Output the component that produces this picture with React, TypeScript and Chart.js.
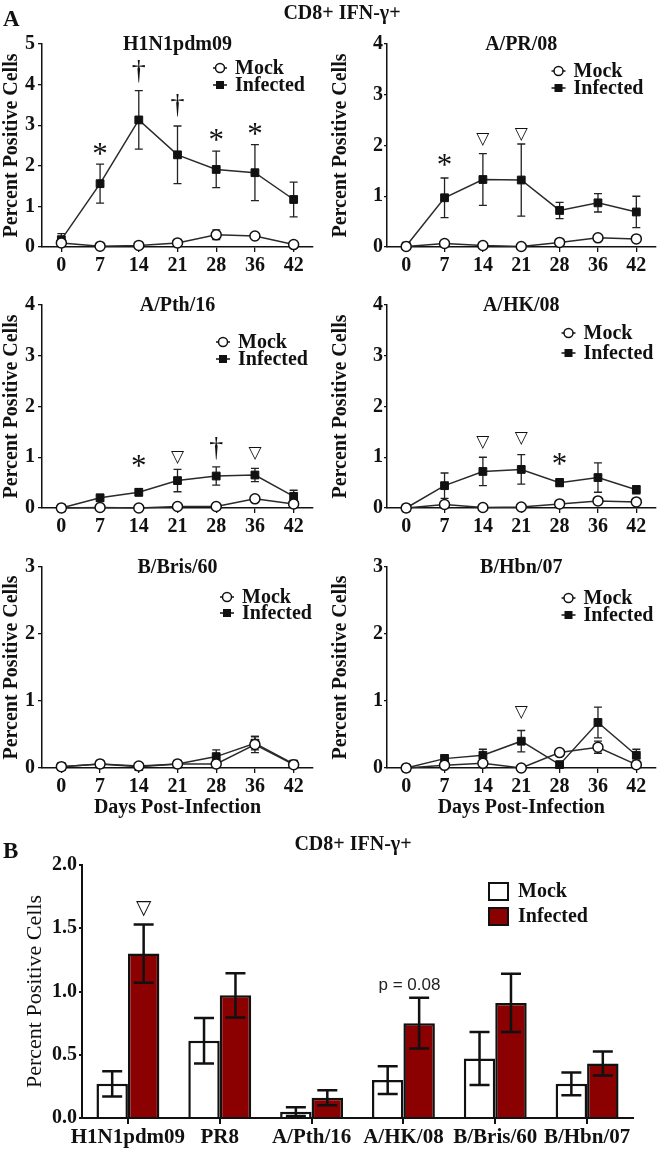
import React, { useEffect, useRef } from "react";
import { Chart, registerables } from "chart.js";
Chart.register(...registerables);

const SERIF = "'Liberation Serif', 'Times New Roman', serif";
const SANS = "'Liberation Sans', Arial, sans-serif";
const SYM = "'DejaVu Sans', sans-serif";

// ---------- data ----------
const DAYS = ["0", "7", "14", "21", "28", "36", "42"];

const H1N1_MOCK = [0.1, 0.02, 0.04, 0.1, 0.3, 0.27, 0.06];
const H1N1_MOCK_ERR = [0.05, 0.02, 0.02, 0.04, 0.12, 0.04, 0.02];
const H1N1_INF = [0.18, 1.56, 3.13, 2.27, 1.91, 1.83, 1.17];
const H1N1_INF_ERR = [0.15, 0.48, 0.72, 0.71, 0.45, 0.69, 0.43];

const PR8_MOCK = [0.01, 0.07, 0.03, 0.01, 0.09, 0.18, 0.16];
const PR8_MOCK_ERR = [0.01, 0.02, 0.02, 0.01, 0.03, 0.03, 0.03];
const PR8_INF = [0.02, 0.97, 1.33, 1.32, 0.72, 0.87, 0.69];
const PR8_INF_ERR = [0.01, 0.39, 0.51, 0.71, 0.16, 0.18, 0.31];

const PTH_MOCK = [0.0, 0.01, 0.0, 0.03, 0.03, 0.18, 0.08];
const PTH_MOCK_ERR = [0, 0.01, 0, 0.02, 0.02, 0.04, 0.03];
const PTH_INF = [0.0, 0.2, 0.31, 0.54, 0.63, 0.65, 0.23];
const PTH_INF_ERR = [0, 0.07, 0.07, 0.22, 0.18, 0.13, 0.12];

const HK_MOCK = [0.0, 0.07, 0.01, 0.02, 0.08, 0.14, 0.12];
const HK_MOCK_ERR = [0, 0.03, 0.01, 0.01, 0.02, 0.03, 0.02];
const HK_INF = [0.0, 0.44, 0.72, 0.76, 0.5, 0.6, 0.36];
const HK_INF_ERR = [0, 0.25, 0.28, 0.29, 0.08, 0.29, 0.08];

const BRIS_MOCK = [0.02, 0.06, 0.03, 0.06, 0.06, 0.35, 0.05];
const BRIS_MOCK_ERR = [0.01, 0.02, 0.01, 0.02, 0.02, 0.12, 0.02];
const BRIS_INF = [0.02, 0.06, 0.02, 0.06, 0.17, 0.37, 0.06];
const BRIS_INF_ERR = [0.02, 0.03, 0.02, 0.02, 0.1, 0.1, 0.03];

const HBN_MOCK = [0.0, 0.04, 0.07, 0.0, 0.23, 0.31, 0.05];
const HBN_MOCK_ERR = [0, 0.02, 0.03, 0, 0.03, 0.09, 0.02];
const HBN_INF = [0.0, 0.14, 0.19, 0.4, 0.05, 0.68, 0.19];
const HBN_INF_ERR = [0, 0.06, 0.09, 0.16, 0.02, 0.23, 0.09];

// significance marks: [category index, symbol, y position in data units]
const H1N1_MARKS: [number, string, number][] = [[1, "*", 2.4], [2, "†", 4.33], [3, "†", 3.5], [4, "*", 2.73], [5, "*", 2.89]];
const PR8_MARKS: [number, string, number][] = [[1, "*", 1.69], [2, "▽", 2.12], [3, "▽", 2.22]];
const PTH_MARKS: [number, string, number][] = [[2, "*", 0.915], [3, "▽", 1.0], [4, "†", 1.18], [5, "▽", 1.08]];
const HK_MARKS: [number, string, number][] = [[2, "▽", 1.29], [3, "▽", 1.37], [4, "*", 0.94]];
const BRIS_MARKS: [number, string, number][] = [];
const HBN_MARKS: [number, string, number][] = [[3, "▽", 0.83]];

const BAR_CATS = ["H1N1pdm09", "PR8", "A/Pth/16", "A/HK/08", "B/Bris/60", "B/Hbn/07"];
const BAR_MOCK = [0.27, 0.61, 0.05, 0.3, 0.47, 0.27];
const BAR_MOCK_ERR = [0.1, 0.18, 0.035, 0.11, 0.21, 0.09];
const BAR_INF = [1.3, 0.97, 0.16, 0.75, 0.91, 0.43];
const BAR_INF_ERR = [0.23, 0.175, 0.06, 0.2, 0.23, 0.095];

const SERIES = ["Mock", "Infected"];

// ---------- panel layout ----------
type Panel = {
  title: string; mock: number[]; mockErr: number[]; inf: number[]; infErr: number[];
  yMax: number; marks: [number, string, number][];
  col: number; row: number; xTitle: boolean;
  legend: [number, number, number]; // text offset from right, first row offset from top, row gap
};

const PANELS: Panel[] = [
  { title: "H1N1pdm09", mock: H1N1_MOCK, mockErr: H1N1_MOCK_ERR, inf: H1N1_INF, infErr: H1N1_INF_ERR, yMax: 5, marks: H1N1_MARKS, col: 0, row: 0, xTitle: false, legend: [78, 24, 17] },
  { title: "A/PR/08", mock: PR8_MOCK, mockErr: PR8_MOCK_ERR, inf: PR8_INF, infErr: PR8_INF_ERR, yMax: 4, marks: PR8_MARKS, col: 1, row: 0, xTitle: false, legend: [82, 27, 17] },
  { title: "A/Pth/16", mock: PTH_MOCK, mockErr: PTH_MOCK_ERR, inf: PTH_INF, infErr: PTH_INF_ERR, yMax: 4, marks: PTH_MARKS, col: 0, row: 1, xTitle: false, legend: [75, 37, 17] },
  { title: "A/HK/08", mock: HK_MOCK, mockErr: HK_MOCK_ERR, inf: HK_INF, infErr: HK_INF_ERR, yMax: 4, marks: HK_MARKS, col: 1, row: 1, xTitle: false, legend: [72, 28, 20] },
  { title: "B/Bris/60", mock: BRIS_MOCK, mockErr: BRIS_MOCK_ERR, inf: BRIS_INF, infErr: BRIS_INF_ERR, yMax: 3, marks: BRIS_MARKS, col: 0, row: 2, xTitle: true, legend: [71, 30, 16] },
  { title: "B/Hbn/07", mock: HBN_MOCK, mockErr: HBN_MOCK_ERR, inf: HBN_INF, infErr: HBN_INF_ERR, yMax: 3, marks: HBN_MARKS, col: 1, row: 2, xTitle: true, legend: [72, 31, 17] },
];

const ROW_TOP = [24, 285, 547];
const ROW_AREA_H = [203, 203, 201];
const PAD_TOP = 20;
const LINE_COLOR = "#2a2a2a";

function drawSymbol(ctx: CanvasRenderingContext2D, sym: string, x: number, y: number, triSize = 17) {
  ctx.save();
  ctx.fillStyle = "#111";
  ctx.textAlign = "center";
  if (sym === "*") {
    ctx.font = `normal 31px ${SERIF}`;
    ctx.textBaseline = "alphabetic";
    ctx.fillText("*", x, y + 14);
  } else if (sym === "†") {
    ctx.font = `normal 28px ${SERIF}`;
    ctx.textBaseline = "alphabetic";
    ctx.fillText("†", x, y + 8);
  } else {
    ctx.font = `normal ${triSize}px ${SYM}`;
    ctx.textBaseline = "middle";
    ctx.fillText(sym, x, y);
  }
  ctx.restore();
}

function LinePanel({ p }: { p: Panel }) {
  const ref = useRef<HTMLCanvasElement>(null);
  const left = p.col === 0;
  const width = 331;
  const xAxisH = p.xTitle ? 55 : 30;
  const height = PAD_TOP + ROW_AREA_H[p.row] + xAxisH;

  useEffect(() => {
    const errs = [p.mockErr, p.infErr];
    const plugin = {
      id: "extras",
      beforeDatasetsDraw(chart: any) {
        const ctx = chart.ctx;
        const xs = chart.scales.x, ys = chart.scales.y;
        ctx.save();
        ctx.strokeStyle = "#222";
        ctx.lineWidth = 1.3;
        chart.data.datasets.forEach((ds: any, d: number) => {
          ds.data.forEach((v: number, i: number) => {
            const e = errs[d][i];
            if (!e) return;
            const x = xs.getPixelForValue(i);
            const yt = ys.getPixelForValue(v + e);
            const yb = ys.getPixelForValue(Math.max(v - e, 0));
            ctx.beginPath();
            ctx.moveTo(x, yt); ctx.lineTo(x, yb);
            ctx.moveTo(x - 4, yt); ctx.lineTo(x + 4, yt);
            ctx.moveTo(x - 4, yb); ctx.lineTo(x + 4, yb);
            ctx.stroke();
          });
        });
        ctx.restore();
      },
      afterDraw(chart: any) {
        const ctx = chart.ctx;
        const a = chart.chartArea;
        const xs = chart.scales.x, ys = chart.scales.y;
        ctx.save();
        // title
        ctx.fillStyle = "#111";
        ctx.font = `bold 20px ${SERIF}`;
        ctx.textAlign = "center";
        ctx.textBaseline = "middle";
        ctx.fillText(p.title, (a.left + a.right) / 2, a.top + 1);
        // legend
        const [dxText, dyTop, gap] = p.legend;
        const tx = a.right - dxText;
        const mx = tx - 15;
        SERIES.forEach((name, k) => {
          const y = a.top + dyTop + k * gap;
          ctx.strokeStyle = "#111";
          ctx.lineWidth = 1.5;
          ctx.beginPath();
          ctx.moveTo(mx - 7, y); ctx.lineTo(mx + 7, y);
          ctx.stroke();
          if (k === 0) {
            ctx.beginPath();
            ctx.arc(mx, y, 4.5, 0, Math.PI * 2);
            ctx.fillStyle = "#fff";
            ctx.fill();
            ctx.stroke();
          } else {
            ctx.fillStyle = "#111";
            ctx.fillRect(mx - 4, y - 4, 8, 8);
          }
          ctx.fillStyle = "#111";
          ctx.font = `bold 20px ${SERIF}`;
          ctx.textAlign = "left";
          ctx.textBaseline = "middle";
          ctx.fillText(name, tx, y + 1);
        });
        // significance marks
        p.marks.forEach(([i, sym, yv]) => {
          drawSymbol(ctx, sym, xs.getPixelForValue(i), ys.getPixelForValue(yv));
        });
        ctx.restore();
      },
    };

    const chart = new Chart(ref.current!, {
      type: "line",
      data: {
        labels: DAYS,
        datasets: [
          {
            label: SERIES[0], data: p.mock, borderColor: LINE_COLOR, borderWidth: 1.5,
            pointStyle: "circle", pointRadius: 5, pointBackgroundColor: "#fff",
            pointBorderColor: "#111", pointBorderWidth: 1.5, clip: false, tension: 0,
          } as any,
          {
            label: SERIES[1], data: p.inf, borderColor: LINE_COLOR, borderWidth: 1.5,
            pointStyle: "rect", pointRadius: 5.5, pointBackgroundColor: "#111",
            pointBorderColor: "#111", pointBorderWidth: 1, clip: false, tension: 0,
          } as any,
        ],
      },
      options: {
        responsive: false,
        animation: false,
        events: [],
        layout: { padding: { top: PAD_TOP, right: left ? 18 : 4, left: 0, bottom: 0 } },
        plugins: { legend: { display: false }, tooltip: { enabled: false }, title: { display: false } },
        scales: {
          x: {
            type: "category",
            offset: true,
            grid: { offset: false, drawOnChartArea: false, drawTicks: true, tickLength: 5, color: "#111", lineWidth: 1.3 },
            border: { display: true, color: "#111", width: 1.5 },
            ticks: { color: "#111", font: { family: SERIF, size: 20, weight: "bold" }, padding: 2, autoSkip: false, maxRotation: 0, minRotation: 0 },
            title: { display: p.xTitle, text: "Days Post-Infection", color: "#111", font: { family: SERIF, size: 20, weight: "bold", lineHeight: 1.2 }, padding: { top: 0, bottom: 3 } },
            afterFit: (s: any) => { s.height = xAxisH; },
          },
          y: {
            min: 0, max: p.yMax,
            ticks: { stepSize: 1, color: "#111", font: { family: SERIF, size: 20, weight: "bold" }, padding: left ? 3 : 1 },
            grid: { drawOnChartArea: false, drawTicks: true, tickLength: left ? 4 : 3, color: "#111", lineWidth: 1.3 },
            border: { display: true, color: "#111", width: 1.5 },
            title: { display: true, text: "Percent Positive Cells", color: "#111", font: { family: SERIF, size: 20, weight: "bold", lineHeight: 1.2 }, padding: { top: left ? 0 : -2, bottom: 0 } },
            afterFit: (s: any) => { s.width = left ? 42 : 56; },
          },
        },
      } as any,
      plugins: [plugin],
    });
    return () => chart.destroy();
  }, []);

  return (
    <canvas
      ref={ref}
      width={width}
      height={height}
      style={{ position: "absolute", left: left ? 0 : 331, top: ROW_TOP[p.row], width, height }}
    />
  );
}

function BarPanel() {
  const ref = useRef<HTMLCanvasElement>(null);
  const width = 662;
  const height = 304;
  useEffect(() => {
    const errs = [BAR_MOCK_ERR, BAR_INF_ERR];
    const plugin = {
      id: "barExtras",
      afterDatasetsDraw(chart: any) {
        const ctx = chart.ctx;
        const ys = chart.scales.y;
        ctx.save();
        ctx.strokeStyle = "#111";
        ctx.lineWidth = 2.5;
        chart.data.datasets.forEach((ds: any, d: number) => {
          const meta = chart.getDatasetMeta(d);
          ds.data.forEach((v: number, i: number) => {
            const e = errs[d][i];
            const x = meta.data[i].x;
            const yt = ys.getPixelForValue(v + e);
            const yb = ys.getPixelForValue(Math.max(v - e, 0));
            ctx.beginPath();
            ctx.moveTo(x, yt); ctx.lineTo(x, yb);
            ctx.moveTo(x - 10, yt); ctx.lineTo(x + 10, yt);
            ctx.moveTo(x - 10, yb); ctx.lineTo(x + 10, yb);
            ctx.stroke();
          });
        });
        ctx.restore();
      },
      afterDraw(chart: any) {
        const ctx = chart.ctx;
        const a = chart.chartArea;
        const xs = chart.scales.x, ys = chart.scales.y;
        ctx.save();
        // legend
        const colors = ["#fff", "#8b0000"];
        SERIES.forEach((name, k) => {
          const bx = a.right - 144;
          const by = a.top + 18 + k * 25;
          ctx.fillStyle = colors[k];
          ctx.fillRect(bx, by, 19, 17);
          ctx.strokeStyle = "#111";
          ctx.lineWidth = 2;
          ctx.strokeRect(bx, by, 19, 17);
          ctx.fillStyle = "#111";
          ctx.font = `bold 20px ${SERIF}`;
          ctx.textAlign = "left";
          ctx.textBaseline = "middle";
          ctx.fillText(name, bx + 29, by + 9);
        });
        // marks
        const infMeta = chart.getDatasetMeta(1);
        drawSymbol(ctx, "▽", infMeta.data[0].x, ys.getPixelForValue(1.657), 20);
        ctx.fillStyle = "#222";
        ctx.font = `normal 17px ${SANS}`;
        ctx.textAlign = "center";
        ctx.textBaseline = "middle";
        ctx.fillText("p = 0.08", xs.getPixelForValue(3) + 6, ys.getPixelForValue(1.05));
        ctx.restore();
      },
    };
    const chart = new Chart(ref.current!, {
      type: "bar",
      data: {
        labels: BAR_CATS,
        datasets: [
          { label: SERIES[0], data: BAR_MOCK, backgroundColor: "#ffffff", borderColor: "#111", borderWidth: 2.5, categoryPercentage: 0.685, barPercentage: 1 },
          { label: SERIES[1], data: BAR_INF, backgroundColor: "#8b0000", borderColor: "#111", borderWidth: 2.5, categoryPercentage: 0.685, barPercentage: 1 },
        ],
      },
      options: {
        responsive: false,
        animation: false,
        events: [],
        layout: { padding: { top: PAD_TOP, right: 29, left: 0, bottom: 0 } },
        plugins: { legend: { display: false }, tooltip: { enabled: false } },
        scales: {
          x: {
            offset: true,
            grid: { offset: false, drawOnChartArea: false, drawTicks: true, tickLength: 6, color: "#111", lineWidth: 2 },
            border: { display: true, color: "#111", width: 2 },
            ticks: { color: "#111", font: { family: SERIF, size: 21, weight: "bold" }, padding: 1, autoSkip: false, maxRotation: 0, minRotation: 0 },
            afterFit: (s: any) => { s.height = 31; },
          },
          y: {
            min: 0, max: 2,
            ticks: { stepSize: 0.5, color: "#111", font: { family: SERIF, size: 20, weight: "bold" }, padding: 2, callback: (v: any) => Number(v).toFixed(1) },
            grid: { drawOnChartArea: false, drawTicks: true, tickLength: 3, color: "#111", lineWidth: 2 },
            border: { display: true, color: "#111", width: 2 },
            title: { display: true, text: "Percent Positive Cells", color: "#111", font: { family: SERIF, size: 22, weight: "normal", lineHeight: 1 }, padding: { top: 24, bottom: 0 } },
            afterFit: (s: any) => { s.width = 82; },
          },
        },
      } as any,
      plugins: [plugin],
    });
    return () => chart.destroy();
  }, []);
  return (
    <canvas ref={ref} width={width} height={height} style={{ position: "absolute", left: 0, top: 845, width, height }} />
  );
}

const headStyle = (left: number, top: number, size: number, w?: number): React.CSSProperties => ({
  position: "absolute", left, top, width: w, textAlign: w ? "center" : "left",
  fontFamily: SERIF, fontWeight: "bold", fontSize: size, lineHeight: 1, color: "#111", whiteSpace: "nowrap",
});

export default function App() {
  return (
    <div style={{ position: "absolute", left: 0, top: 0, width: 662, height: 1149, background: "#fff", overflow: "hidden" }}>
      {PANELS.map((p, i) => <LinePanel key={i} p={p} />)}
      <BarPanel />
      <div style={headStyle(3, 7, 23)}>A</div>
      <div style={headStyle(242, 2, 20, 200)}>CD8+ IFN-γ+</div>
      <div style={headStyle(3, 839, 23)}>B</div>
      <div style={headStyle(253, 833, 20, 200)}>CD8+ IFN-γ+</div>
    </div>
  );
}
